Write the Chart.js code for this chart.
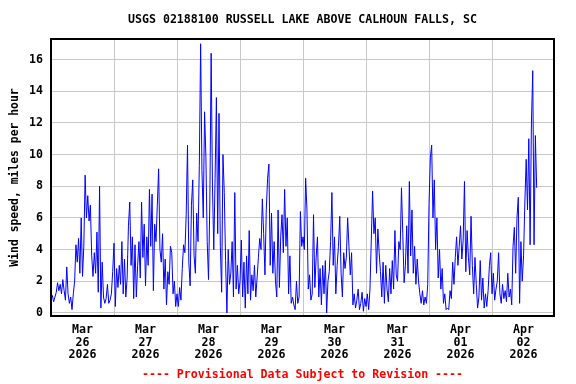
<!DOCTYPE html>
<html>
<head>
<meta charset="utf-8">
<script src="https://cdn.jsdelivr.net/npm/chart.js@4.4.1/dist/chart.umd.min.js"></script>
<style>
  body { margin: 0; background: #fff; }
  #wrap { width: 576px; height: 384px; }
</style>
</head>
<body>
<div id="wrap"><canvas id="myChart" width="576" height="384"></canvas></div>
<script>
// wind speed, mph, every 30 minutes from Mar 26 2026 00:00
const speeds = [
  0.9,1.1,0.7,1.0,1.3,1.9,1.4,1.8,1.2,2.1,1.4,0.8,2.9,1.2,0.6,1.0,0.2,1.2,2.0,4.3,3.2,4.7,2.5,6.0,
  2.3,4.2,8.7,6.0,7.4,5.8,6.8,3.6,2.3,3.8,2.5,5.1,1.3,8.0,0.3,3.2,1.0,0.6,0.9,1.8,0.6,0.8,1.2,2.6,
  4.4,0.4,2.8,1.6,3.0,1.8,4.5,1.2,3.4,1.0,2.2,5.5,7.0,3.0,4.8,0.9,4.3,1.0,3.0,4.5,2.2,7.0,3.5,5.6,
  1.7,4.8,3.0,7.8,4.2,7.5,1.4,5.6,4.5,6.8,9.1,4.0,3.2,5.0,1.5,3.4,0.5,2.6,1.8,4.2,3.8,1.2,2.0,0.4,
  1.2,0.4,1.6,0.8,2.8,4.3,3.8,6.2,10.6,3.2,1.7,6.8,8.4,3.6,2.5,6.3,4.5,9.3,17.0,9.0,6.0,12.7,9.9,4.5,
  2.1,7.0,16.4,8.0,4.0,8.5,13.6,5.0,12.6,4.2,1.3,10.0,7.6,3.3,0.0,4.0,1.8,2.5,4.5,1.0,7.6,1.5,3.0,1.2,
  2.0,4.6,1.0,3.2,0.3,3.6,1.2,5.2,0.8,2.4,1.4,3.0,1.0,2.2,3.5,4.7,4.0,7.2,5.0,2.4,6.5,8.5,9.4,3.0,
  6.3,2.5,4.5,2.0,1.0,6.5,1.6,4.8,6.2,3.8,7.8,4.2,6.0,1.2,3.6,0.6,1.0,0.5,0.2,2.0,0.6,1.0,6.4,4.2,
  4.8,4.0,8.5,6.5,1.5,2.4,0.8,1.2,6.2,1.6,3.5,4.8,1.0,2.8,0.5,3.0,1.2,3.3,0.0,2.0,2.6,4.5,7.6,3.0,
  4.8,1.2,3.0,4.2,6.1,2.5,1.0,3.8,2.8,3.5,6.0,4.2,2.4,3.8,0.5,1.2,0.3,0.8,1.5,0.2,0.6,1.3,0.1,0.9,
  0.4,1.2,0.2,1.5,4.6,7.7,5.0,6.0,2.5,5.3,3.8,2.6,1.0,3.2,0.6,3.0,1.5,0.7,2.8,1.2,3.3,1.5,5.2,2.4,
  2.0,4.5,4.0,7.9,5.0,1.9,3.0,5.5,2.5,8.3,3.6,6.5,2.5,4.2,1.8,3.4,2.0,1.2,0.6,1.4,0.5,1.0,0.6,1.8,
  6.9,9.8,10.6,6.0,8.4,4.0,6.0,2.2,4.0,1.5,2.8,0.6,1.2,0.2,0.3,0.2,1.4,0.9,3.2,1.8,3.5,4.8,3.0,4.2,
  5.5,3.4,4.6,8.3,2.6,5.2,3.5,2.4,6.1,3.0,1.2,3.5,1.8,0.3,1.0,3.3,0.8,2.2,0.3,1.2,0.4,1.4,3.0,3.8,
  1.2,2.5,0.8,1.5,2.0,3.8,1.2,0.6,1.8,0.9,1.4,0.7,2.5,1.0,1.5,0.5,4.2,5.4,2.5,6.0,7.3,0.6,4.5,2.0,
  3.6,7.0,9.7,6.5,11.0,4.3,12.0,15.3,4.3,11.2,7.9
];
const stepHours = 0.5;

// x axis: one label per day (at noon), gridline at midnight
const dayMonths = ['Mar', 'Mar', 'Mar', 'Mar', 'Mar', 'Mar', 'Apr', 'Apr'];
const dayNumbers = ['26', '27', '28', '29', '30', '31', '01', '02'];
const dayYear = '2026';
const yTicks = [0, 2, 4, 6, 8, 10, 12, 14, 16];

const titleText = 'USGS 02188100 RUSSELL LAKE ABOVE CALHOUN FALLS, SC';
const footerText = '---- Provisional Data Subject to Revision ----';

const FONT = "'DejaVu Sans Mono', 'Liberation Mono', monospace";
const GRID = 'rgb(200,200,200)';

const points = speeds.map(function(v, i) {
  return { x: i * stepHours, y: v };
});

// frame around plot area + title/footer centred on the plot
const framePlugin = {
  id: 'frame',
  afterDraw(chart) {
    const a = chart.chartArea;
    const ctx = chart.ctx;
    const cx = (a.left + a.right) / 2;
    ctx.save();
    ctx.strokeStyle = '#000';
    ctx.lineWidth = 2;
    ctx.strokeRect(a.left, a.top, a.right - a.left, a.bottom - a.top);

    ctx.font = 'bold 11.6px ' + FONT;
    ctx.textAlign = 'center';
    ctx.textBaseline = 'middle';
    ctx.fillStyle = '#000';
    ctx.fillText(titleText, cx, 20);
    ctx.fillStyle = '#ff0000';
    ctx.fillText(footerText, cx, 375);
    ctx.restore();
  }
};

const config = {
  type: 'line',
  data: {
    datasets: [{
      data: points,
      borderColor: '#0000ff',
      borderWidth: 1,
      pointRadius: 0,
      tension: 0,
      fill: false
    }]
  },
  options: {
    responsive: false,
    animation: false,
    layout: { padding: { left: 0, right: 22, top: 39, bottom: 19 } },
    plugins: {
      legend: { display: false },
      tooltip: { enabled: false },
      title: { display: false }
    },
    scales: {
      x: {
        type: 'linear',
        min: 0,
        max: 191.6,
        afterBuildTicks(scale) {
          const t = [];
          for (let h = 0; h <= 180; h += 12) t.push({ value: h });
          scale.ticks = t;
        },
        afterFit(scale) { scale.height = 49; },
        grid: {
          drawTicks: false,
          color(ctx) {
            if (!ctx.tick) return 'transparent';
            return (ctx.tick.value % 24 === 0 && ctx.tick.value > 0) ? GRID : 'transparent';
          },
          lineWidth: 1
        },
        border: { display: false },
        ticks: {
          autoSkip: false,
          maxRotation: 0,
          padding: 8,
          color: '#000',
          font: { family: FONT, size: 11.6, weight: 'bold', lineHeight: 1.08 },
          callback(value) {
            if (value % 24 !== 12) return '';
            const d = Math.floor(value / 24);
            return [dayMonths[d], dayNumbers[d], dayYear];
          }
        }
      },
      y: {
        min: -0.2,
        max: 17.3,
        afterBuildTicks(scale) {
          scale.ticks = yTicks.map(function(v) { return { value: v }; });
        },
        afterFit(scale) { scale.width = 51; },
        grid: { drawTicks: false, color: GRID, lineWidth: 1 },
        border: { display: false },
        ticks: {
          padding: 8,
          color: '#000',
          font: { family: FONT, size: 11.6, weight: 'bold' }
        },
        title: {
          display: true,
          text: 'Wind speed, miles per hour',
          color: '#000',
          font: { family: FONT, size: 11.4, weight: 'bold', lineHeight: 1.2 },
          padding: { top: 8, bottom: 0 }
        }
      }
    }
  },
  plugins: [framePlugin]
};

const myChart = new Chart(document.getElementById('myChart'), config);
</script>
</body>
</html>
